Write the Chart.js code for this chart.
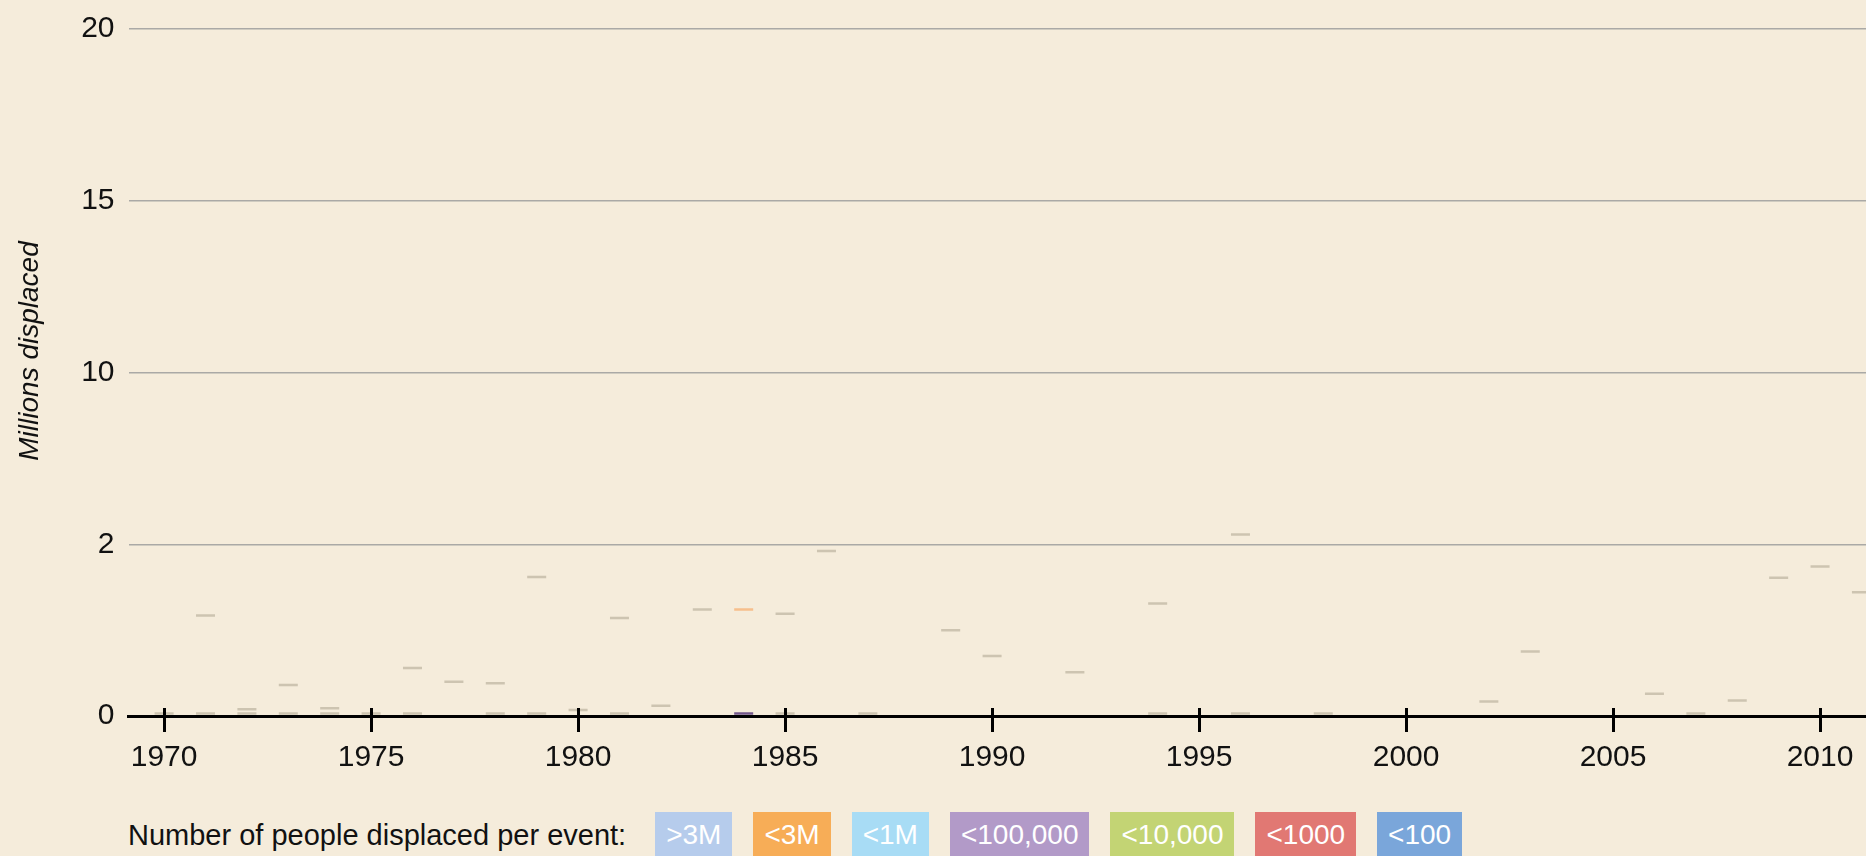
<!DOCTYPE html>
<html>
<head>
<meta charset="utf-8">
<title>Millions displaced</title>
<script src="https://cdn.jsdelivr.net/npm/chart.js@4.4.1/dist/chart.umd.min.js"></script>
<style>
  html, body { margin: 0; padding: 0; background: #f5ecdb; overflow: hidden; }
  body { width: 1866px; height: 856px; position: relative; font-family: "Liberation Sans", Arial, sans-serif; }
  #wrap { position: absolute; left: 0; top: 0; width: 1878px; height: 776px; }
  #legend { position: absolute; left: 128px; top: 812px; display: flex; align-items: flex-start; white-space: nowrap; }
  #legend .label { font-size: 29px; line-height: 46px; color: #111; margin-right: 29px; letter-spacing: 0; }
  #legend .box { height: 46px; line-height: 46px; padding: 0 11px; margin-right: 21px; color: #fff; font-size: 28px; }
</style>
</head>
<body>
<div id="wrap"><canvas id="chart"></canvas></div>
<div id="legend"></div>
<script>
// years on the x axis
const years = [
  1970, 1971, 1972, 1973, 1974, 1975, 1976, 1977, 1978, 1979,
  1980, 1981, 1982, 1983, 1984, 1985, 1986, 1987, 1988, 1989,
  1990, 1991, 1992, 1993, 1994, 1995, 1996, 1997, 1998, 1999,
  2000, 2001, 2002, 2003, 2004, 2005, 2006, 2007, 2008, 2009,
  2010, 2011
];
// top of each year's marks (millions displaced)
const topMarks = [
  null, 1.17, 0.08, 0.36, 0.09, null, 0.56, 0.40, 0.38, 1.62,
  0.07, 1.14, 0.12, 1.24, null, 1.19, 1.92, null, null, 1.00,
  0.70, null, 0.51, null, 1.31, null, 2.45, null, null, null,
  null, null, 0.17, 0.75, null, null, 0.26, null, 0.18, 1.61,
  1.74, 1.44
];
// small marks sitting just on the axis
const baseMarks = [
  0.03, 0.03, 0.03, 0.03, 0.03, 0.03, 0.03, null, 0.03, 0.03,
  null, 0.03, null, null, null, 0.03, null, 0.03, null, null,
  null, null, null, null, 0.03, null, 0.03, null, 0.03, null,
  null, null, null, null, null, null, null, 0.03, null, null,
  null, null
];
// the two coloured marks of 1984
const orangeYears = [1984];
const orangeValues = [1.24];
const purpleYears = [1984];
const purpleValues = [0.03];

// broken y axis: equal bands between these values
const yBreaks = [0, 2, 10, 15, 20];
const yTickLabels = ['0', '2', '10', '15', '20'];
const xTickYears = [1970, 1975, 1980, 1985, 1990, 1995, 2000, 2005, 2010];

const legendLabels = ['>3M', '<3M', '<1M', '<100,000', '<10,000', '<1000', '<100'];
const legendColors = ['#b6ccec', '#f7ad57', '#a8dcf5', '#b29ac8', '#c3d474', '#e17873', '#7aa6da'];

function toBand(v) {
  for (let i = 0; i < yBreaks.length - 1; i++) {
    if (v <= yBreaks[i + 1]) return i + (v - yBreaks[i]) / (yBreaks[i + 1] - yBreaks[i]);
  }
  return yBreaks.length - 1;
}

function points(xs, vals) {
  const out = [];
  xs.forEach((x, i) => { if (vals[i] != null) out.push({ x: x, y: toBand(vals[i]) }); });
  return out;
}

function markSet(data, color) {
  return {
    data: data,
    pointStyle: 'line',
    pointRadius: 9.5,
    pointHoverRadius: 9.5,
    borderColor: color,
    backgroundColor: color,
    borderWidth: 2.5,
    showLine: false
  };
}

// draws the part of each x tick above the axis, and the y title
const extras = {
  id: 'extras',
  afterDraw(chart) {
    const ctx = chart.ctx;
    const x = chart.scales.x;
    const bottom = chart.chartArea.bottom;
    ctx.save();
    ctx.strokeStyle = '#000';
    ctx.lineWidth = 3;
    x.ticks.forEach(t => {
      const px = Math.round(x.getPixelForValue(t.value)) + 0.5;
      ctx.beginPath();
      ctx.moveTo(px, bottom - 8);
      ctx.lineTo(px, bottom);
      ctx.stroke();
    });
    ctx.translate(30, 351);
    ctx.rotate(-Math.PI / 2);
    ctx.fillStyle = '#111';
    ctx.font = 'italic 28px "Liberation Sans", Arial, sans-serif';
    ctx.textAlign = 'center';
    ctx.textBaseline = 'middle';
    ctx.fillText('Millions displaced', 0, 0);
    ctx.restore();
  }
};

Chart.defaults.font.family = '"Liberation Sans", Arial, sans-serif';
Chart.defaults.color = '#111';

new Chart(document.getElementById('chart'), {
  type: 'scatter',
  data: {
    datasets: [
      markSet(points(years, baseMarks), 'rgba(150, 140, 120, 0.42)'),
      markSet(points(years, topMarks), 'rgba(150, 140, 120, 0.42)'),
      markSet(points(orangeYears, orangeValues), 'rgba(248, 180, 120, 0.8)'),
      markSet(points(purpleYears, purpleValues), 'rgba(100, 70, 130, 0.9)')
    ]
  },
  options: {
    responsive: true,
    maintainAspectRatio: false,
    animation: false,
    layout: { padding: { top: 22, right: 0, bottom: 0, left: 0 } },
    plugins: { legend: { display: false }, tooltip: { enabled: false } },
    scales: {
      x: {
        type: 'linear',
        min: 1969.14,
        max: 2011.11,
        afterBuildTicks: s => { s.ticks = xTickYears.map(v => ({ value: v })); },
        afterFit: s => { s.height = 60; },
        ticks: { font: { size: 30 }, padding: 8, maxRotation: 0, callback: v => String(v) },
        grid: { drawOnChartArea: false, drawTicks: true, tickLength: 16, color: '#000', lineWidth: 3 },
        border: { display: true, color: '#000', width: 3 }
      },
      y: {
        type: 'linear',
        min: 0,
        max: yBreaks.length - 1,
        afterBuildTicks: s => { s.ticks = yBreaks.map((b, i) => ({ value: i })); },
        afterFit: s => { s.width = 128.5; },
        ticks: { font: { size: 30, lineHeight: 1.0 }, padding: 14, callback: (v, i) => yTickLabels[i] },
        grid: {
          drawTicks: false,
          color: c => (c.tick && c.tick.value === 0) ? 'rgba(0,0,0,0)' : '#aaa9a6',
          lineWidth: 1.5
        },
        border: { display: false }
      }
    }
  },
  plugins: [extras]
});

// legend row under the chart
const legend = document.getElementById('legend');
const lab = document.createElement('div');
lab.className = 'label';
lab.textContent = 'Number of people displaced per event:';
legend.appendChild(lab);
legendLabels.forEach((t, i) => {
  const b = document.createElement('div');
  b.className = 'box';
  b.style.background = legendColors[i];
  b.textContent = t;
  legend.appendChild(b);
});
</script>
</body>
</html>
